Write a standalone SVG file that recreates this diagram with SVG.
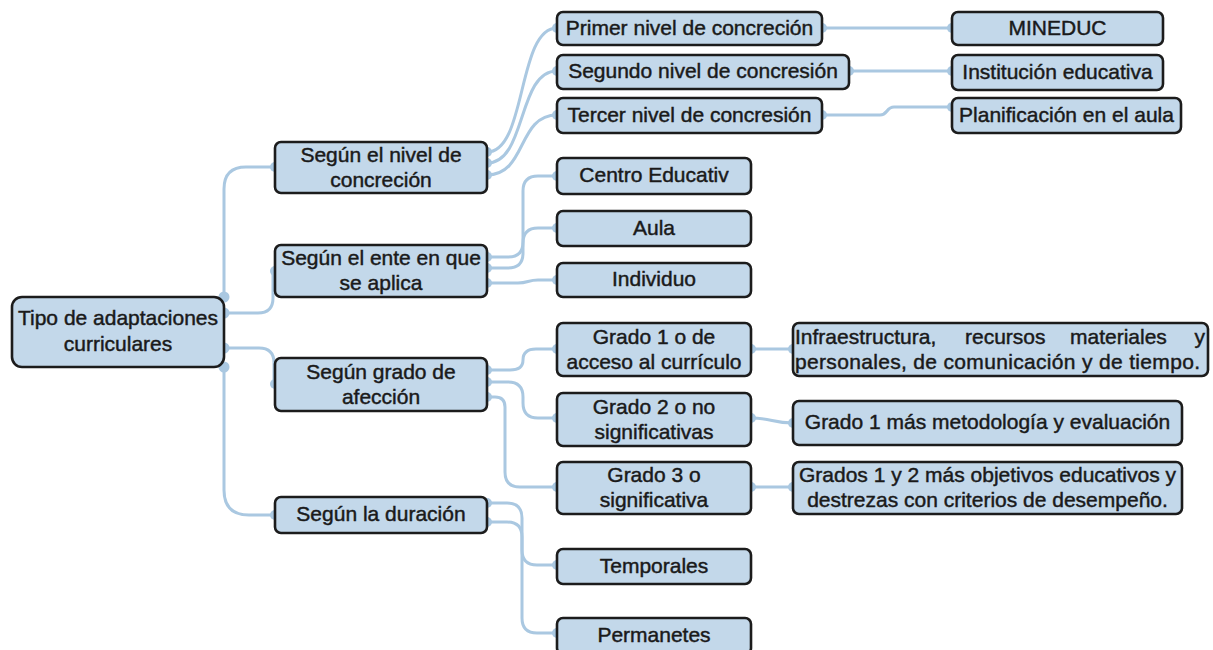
<svg xmlns="http://www.w3.org/2000/svg" width="1213" height="650" viewBox="0 0 1213 650">
<style>
.c{fill:none;stroke:#aac8e1;stroke-width:3;stroke-linecap:round;stroke-linejoin:round}
.d{fill:#aac8e1}
.n rect{fill:#c3d8ea;stroke:#1c1c1c;stroke-width:2.6}
.n text{font-family:"Liberation Sans",Arial,sans-serif;font-size:21px;fill:#1a1a1a;stroke:#1a1a1a;stroke-width:0.45;text-anchor:middle}
.n text.l{text-anchor:start}
.n text.r{text-anchor:end}
</style>
<rect width="1213" height="650" fill="#ffffff"/>
<g id="connectors">
<path class="c" d="M224,297 V189 Q224,167 246,167 H275"/>
<path class="c" d="M224,313 H258 Q273,313 273,298 V271 H275"/>
<path class="c" d="M224,348 H259 Q274,348 274,363 V384"/>
<path class="c" d="M224,367 V490 Q224,515 249,515 H275"/>
<path class="c" d="M487,152 C527,152 517,28 557,28"/>
<path class="c" d="M487,163 C527,163 517,71 557,71"/>
<path class="c" d="M487,175 C527,175 517,115 557,115"/>
<path class="c" d="M487,257 H508 Q523,257 523,242 V191 Q523,176 538,176 H557"/>
<path class="c" d="M487,268 H508 Q523,268 523,253 V243 Q523,228 538,228 H557"/>
<path class="c" d="M487,283 H518 C528,283 528,280 538,280 H557"/>
<path class="c" d="M487,370 H510 Q523,370 523,360 Q523,349 536,349 H557"/>
<path class="c" d="M487,382 H508 Q523,382 523,397 V403 Q523,418 538,418 H557"/>
<path class="c" d="M487,397 H495 Q505,397 505,407 V472 Q505,487 520,487 H557"/>
<path class="c" d="M487,503 H507 Q522,503 522,518 V550 Q522,565 537,565 H557"/>
<path class="c" d="M487,522 H507 Q522,522 522,537 V618 Q522,633 537,633 H557"/>
<path class="c" d="M822,28 H952"/>
<path class="c" d="M849,71 H952"/>
<path class="c" d="M822,115 H880 C888,115 886,107 894,107 H952"/>
<path class="c" d="M751,349 H793"/>
<path class="c" d="M751,418 C772,418 772,423 793,423"/>
<path class="c" d="M751,487 H793"/>
<g class="d">
<circle cx="224" cy="297" r="5.5"/><circle cx="224" cy="313" r="5.5"/><circle cx="224" cy="348" r="5.5"/><circle cx="224" cy="367" r="5.5"/>
<circle cx="275" cy="167" r="5"/><circle cx="275" cy="271" r="5"/><circle cx="275" cy="384" r="5"/><circle cx="275" cy="515" r="5"/>
<circle cx="487" cy="152" r="5"/><circle cx="487" cy="163" r="5"/><circle cx="487" cy="175" r="5"/>
<circle cx="487" cy="257" r="5"/><circle cx="487" cy="268" r="5"/><circle cx="487" cy="283" r="5"/>
<circle cx="487" cy="370" r="5"/><circle cx="487" cy="382" r="5"/><circle cx="487" cy="397" r="5"/>
<circle cx="487" cy="503" r="5"/><circle cx="487" cy="522" r="5"/>
<circle cx="557" cy="28" r="5"/><circle cx="557" cy="71" r="5"/><circle cx="557" cy="115" r="5"/>
<circle cx="557" cy="176" r="5"/><circle cx="557" cy="228" r="5"/><circle cx="557" cy="280" r="5"/>
<circle cx="557" cy="349" r="5"/><circle cx="557" cy="418" r="5"/><circle cx="557" cy="487" r="5"/>
<circle cx="557" cy="565" r="5"/><circle cx="557" cy="633" r="5"/>
<circle cx="822" cy="28" r="5"/><circle cx="849" cy="71" r="5"/><circle cx="822" cy="115" r="5"/>
<circle cx="952" cy="28" r="5"/><circle cx="952" cy="71" r="5"/><circle cx="952" cy="107" r="5"/>
<circle cx="751" cy="349" r="5"/><circle cx="751" cy="418" r="5"/><circle cx="751" cy="487" r="5"/>
<circle cx="793" cy="349" r="5"/><circle cx="793" cy="423" r="5"/><circle cx="793" cy="487" r="5"/>
</g>
</g>
<g id="root" class="n"><rect x="12" y="297" width="212" height="70" rx="10"/><text x="118" y="325">Tipo de adaptaciones</text><text x="118" y="351">curriculares</text></g>
<g id="nivel" class="n"><rect x="275" y="142" width="212" height="51" rx="6"/><text x="381" y="162">Según el nivel de</text><text x="381" y="187">concreción</text></g>
<g id="ente" class="n"><rect x="275" y="245" width="212" height="52" rx="6"/><text x="381" y="265">Según el ente en que</text><text x="381" y="290">se aplica</text></g>
<g id="grado" class="n"><rect x="275" y="358" width="212" height="53" rx="6"/><text x="381" y="378.5">Según grado de</text><text x="381" y="403.5">afección</text></g>
<g id="duracion" class="n"><rect x="275" y="497" width="212" height="36" rx="6"/><text x="381" y="521">Según la duración</text></g>
<g id="primer" class="n"><rect x="557" y="12" width="265" height="33" rx="6"/><text x="689.5" y="34.5">Primer nivel de concreción</text></g>
<g id="segundo" class="n"><rect x="557" y="55" width="292" height="34" rx="6"/><text x="703" y="78">Segundo nivel de concresión</text></g>
<g id="tercer" class="n"><rect x="557" y="98" width="265" height="35" rx="6"/><text x="689.5" y="121.5">Tercer nivel de concresión</text></g>
<g id="centro" class="n"><rect x="557" y="158" width="194" height="36" rx="6"/><text x="654" y="182">Centro Educativ</text></g>
<g id="aula" class="n"><rect x="557" y="211" width="194" height="35" rx="6"/><text x="654" y="234.5">Aula</text></g>
<g id="individuo" class="n"><rect x="557" y="263" width="194" height="34" rx="6"/><text x="654" y="286">Individuo</text></g>
<g id="grado1" class="n"><rect x="557" y="323" width="194" height="53" rx="6"/><text x="654" y="343.5">Grado 1 o de</text><text x="654" y="368.5">acceso al currículo</text></g>
<g id="grado2" class="n"><rect x="557" y="393" width="194" height="53" rx="6"/><text x="654" y="413.5">Grado 2 o no</text><text x="654" y="438.5">significativas</text></g>
<g id="grado3" class="n"><rect x="557" y="462" width="194" height="52" rx="6"/><text x="654" y="482">Grado 3 o</text><text x="654" y="507">significativa</text></g>
<g id="temporales" class="n"><rect x="557" y="549" width="194" height="35" rx="6"/><text x="654" y="572.5">Temporales</text></g>
<g id="permanetes" class="n"><rect x="557" y="618" width="194" height="36" rx="6"/><text x="654" y="642">Permanetes</text></g>
<g id="mineduc" class="n"><rect x="952" y="12" width="211" height="33" rx="6"/><text x="1057.5" y="34.5">MINEDUC</text></g>
<g id="institucion" class="n"><rect x="952" y="55" width="211" height="35" rx="6"/><text x="1057.5" y="78.5">Institución educativa</text></g>
<g id="planificacion" class="n"><rect x="952" y="98" width="229" height="35" rx="6"/><text x="1066.5" y="121.5">Planificación en el aula</text></g>
<g id="infraestructura" class="n"><rect x="793" y="323" width="415" height="53" rx="6"/><text class="l" x="795" y="343.5">Infraestructura,</text><text class="l" x="965" y="343.5">recursos</text><text class="l" x="1070" y="343.5">materiales</text><text class="r" x="1205" y="343.5">y</text><text class="l" x="795" y="368.5" textLength="405" lengthAdjust="spacing">personales, de comunicación y de tiempo.</text></g>
<g id="metodologia" class="n"><rect x="793" y="401" width="389" height="44" rx="6"/><text x="987.5" y="429">Grado 1 más metodología y evaluación</text></g>
<g id="objetivos" class="n"><rect x="793" y="462" width="389" height="52" rx="6"/><text x="987.5" y="482">Grados 1 y 2 más objetivos educativos y</text><text x="987.5" y="507">destrezas con criterios de desempeño.</text></g>
</svg>
